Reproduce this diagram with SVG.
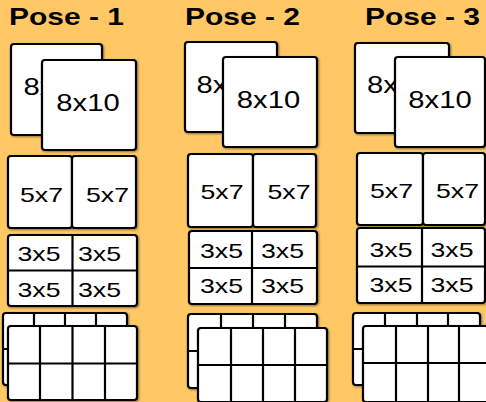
<svg xmlns="http://www.w3.org/2000/svg" width="486" height="402" viewBox="0 0 486 402">
<defs>
<filter id="sh" x="-10%" y="-10%" width="130%" height="130%">
<feDropShadow dx="1" dy="1" stdDeviation="0.8" flood-color="#000" flood-opacity="0.45"/>
</filter>
<clipPath id="c1"><rect x="11" y="44" width="31" height="91"/></clipPath>
<clipPath id="c2"><rect x="185" y="42" width="38" height="90"/></clipPath>
<clipPath id="c3"><rect x="355" y="43" width="40" height="90"/></clipPath>
</defs>
<style>
.bg{fill:#FFC865}
.card{fill:#fff;stroke:#000;stroke-width:2.2;filter:url(#sh)}
.ln{stroke:#000;stroke-width:2.2;fill:none}
.t{font-family:"Liberation Sans",Arial,sans-serif;fill:#000;text-anchor:middle}
.ts{font-family:"Liberation Sans",Arial,sans-serif;fill:#000;text-anchor:start}
.big{font-size:23px}
.mid{font-size:21px}
.title{font-family:"Liberation Sans",Arial,sans-serif;font-weight:bold;font-size:24px;fill:#000}
</style>
<rect class="bg" x="0" y="0" width="486" height="402"/>

<!-- Pose 1 -->
<g id="pose1-title"><text class="title" transform="translate(9,25) scale(1.25,1)">Pose - 1</text></g>
<g id="pose1-8x10">
<rect class="card" x="11" y="44" width="91" height="91" rx="3"/>
<g clip-path="url(#c1)"><text class="ts big" transform="translate(23.5,95) scale(1.27,1)">8x</text></g>
<rect class="card" x="42" y="60" width="94" height="90" rx="3"/>
<text class="t big" transform="translate(88,111) scale(1.27,1)">8x10</text>
</g>
<g id="pose1-5x7">
<rect class="card" x="8" y="156" width="64" height="72" rx="3"/>
<rect class="card" x="72" y="156" width="64" height="72" rx="3"/>
<text class="t mid" transform="translate(41.5,202) scale(1.27,1)">5x7</text>
<text class="t mid" transform="translate(107.5,202) scale(1.27,1)">5x7</text>
</g>
<g id="pose1-3x5">
<rect class="card" x="8" y="235" width="129" height="71" rx="3"/>
<path class="ln" d="M72.5,235V306M8,270.5H137"/>
<text class="t mid" transform="translate(39,261) scale(1.27,1)">3x5</text>
<text class="t mid" transform="translate(99.5,261) scale(1.27,1)">3x5</text>
<text class="t mid" transform="translate(39,297) scale(1.27,1)">3x5</text>
<text class="t mid" transform="translate(99.5,297) scale(1.27,1)">3x5</text>
</g>
<g id="pose1-wallets">
<rect class="card" x="3" y="313" width="124" height="72" rx="3"/>
<path class="ln" d="M34,313V385M65,313V385M96,313V385M3,349H127"/>
<rect class="card" x="8" y="326" width="129" height="74" rx="3"/>
<path class="ln" d="M40,326V400M72.5,326V400M105,326V400M8,363.5H137"/>
</g>

<!-- Pose 2 -->
<g id="pose2-title"><text class="title" transform="translate(185,25) scale(1.25,1)">Pose - 2</text></g>
<g id="pose2-8x10">
<rect class="card" x="185" y="42" width="92" height="90" rx="3"/>
<g clip-path="url(#c2)"><text class="ts big" transform="translate(196.5,93) scale(1.27,1)">8x</text></g>
<rect class="card" x="223" y="57" width="94" height="90" rx="3"/>
<text class="t big" transform="translate(268.5,108) scale(1.27,1)">8x10</text>
</g>
<g id="pose2-5x7">
<rect class="card" x="188" y="154" width="65" height="73" rx="3"/>
<rect class="card" x="253" y="154" width="63" height="73" rx="3"/>
<text class="t mid" transform="translate(222,199) scale(1.27,1)">5x7</text>
<text class="t mid" transform="translate(289,199) scale(1.27,1)">5x7</text>
</g>
<g id="pose2-3x5">
<rect class="card" x="189" y="231" width="128" height="73" rx="3"/>
<path class="ln" d="M252,231V304M189,268H317"/>
<text class="t mid" transform="translate(221.5,258) scale(1.27,1)">3x5</text>
<text class="t mid" transform="translate(282.5,258) scale(1.27,1)">3x5</text>
<text class="t mid" transform="translate(221.5,293) scale(1.27,1)">3x5</text>
<text class="t mid" transform="translate(282.5,293) scale(1.27,1)">3x5</text>
</g>
<g id="pose2-wallets">
<rect class="card" x="188" y="314" width="129" height="74" rx="3"/>
<path class="ln" d="M221,314V388M253,314V388M285,314V388M188,351H317"/>
<rect class="card" x="198" y="328" width="129" height="74" rx="3"/>
<path class="ln" d="M231,328V402M263,328V402M295,328V402M198,365H327"/>
</g>

<!-- Pose 3 -->
<g id="pose3-title"><text class="title" transform="translate(365,25) scale(1.25,1)">Pose - 3</text></g>
<g id="pose3-8x10">
<rect class="card" x="355" y="43" width="94" height="90" rx="3"/>
<g clip-path="url(#c3)"><text class="ts big" transform="translate(367,93) scale(1.27,1)">8x</text></g>
<rect class="card" x="395" y="57" width="90" height="90" rx="3"/>
<text class="t big" transform="translate(440,108) scale(1.27,1)">8x10</text>
</g>
<g id="pose3-5x7">
<rect class="card" x="357" y="153" width="66" height="72" rx="3"/>
<rect class="card" x="423" y="153" width="62" height="72" rx="3"/>
<text class="t mid" transform="translate(391.5,198) scale(1.27,1)">5x7</text>
<text class="t mid" transform="translate(457.5,198) scale(1.27,1)">5x7</text>
</g>
<g id="pose3-3x5">
<rect class="card" x="357" y="228" width="128" height="75" rx="3"/>
<path class="ln" d="M422,228V303M357,266.5H485"/>
<text class="t mid" transform="translate(391,257) scale(1.27,1)">3x5</text>
<text class="t mid" transform="translate(452,257) scale(1.27,1)">3x5</text>
<text class="t mid" transform="translate(391,292) scale(1.27,1)">3x5</text>
<text class="t mid" transform="translate(452,292) scale(1.27,1)">3x5</text>
</g>
<g id="pose3-wallets">
<rect class="card" x="353" y="313" width="127" height="72" rx="3"/>
<path class="ln" d="M385,313V385M417,313V385M448,313V385M353,349H480"/>
<rect class="card" x="363" y="326" width="129" height="76" rx="3"/>
<path class="ln" d="M396,326V402M428,326V402M459,326V402M363,363H492"/>
</g>
</svg>
